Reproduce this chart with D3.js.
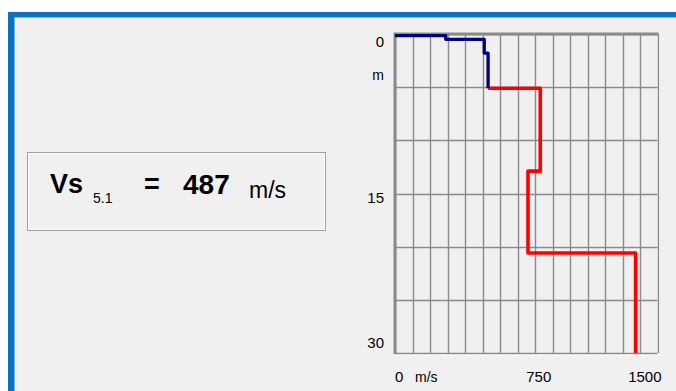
<!DOCTYPE html>
<html>
<head>
<meta charset="utf-8">
<script src="https://cdn.jsdelivr.net/npm/d3@7"></script>
<style>
  html, body { margin: 0; padding: 0; background: #ffffff; }
  svg { display: block; }
  text { font-family: "Liberation Sans", Arial, sans-serif; fill: #000; }
</style>
</head>
<body>
<svg id="chart" width="676" height="391"></svg>
<script>
// Shear-wave velocity profile: layer velocities (m/s) and layer bottoms (m)
const velocities = [290, 510, 532, 830, 760, 1375];
const layerBottoms = [0.5, 1.8, 5.1, 12.9, 20.6, 30];
const averagingDepth = 5.1;        // depth used for the time-averaged Vs
const velocityTicks = [0, 750, 1500];
const depthTicks = [0, 15, 30];
const velocityGrid = d3.range(0, 1501, 100);
const depthGrid = d3.range(0, 31, 5);

// Time-averaged velocity down to averagingDepth
function averageVs(depth) {
  let t = 0, top = 0;
  for (let i = 0; i < velocities.length && top < depth; i++) {
    const bot = Math.min(layerBottoms[i], depth);
    t += (bot - top) / velocities[i];
    top = layerBottoms[i];
  }
  return depth / t;
}
const vsValue = Math.round(averageVs(averagingDepth));

const svg = d3.select("#chart");
const W = 676, H = 391;

// window frame
svg.append("rect").attr("x", 0).attr("y", 0).attr("width", W).attr("height", H).attr("fill", "#ffffff");
svg.append("rect").attr("x", 8).attr("y", 12).attr("width", W - 8).attr("height", H - 12).attr("fill", "#0a72c4");
svg.append("rect").attr("x", 14).attr("y", 17).attr("width", W - 14).attr("height", H - 17).attr("fill", "#7fb6e6");
svg.append("rect").attr("x", 15).attr("y", 18).attr("width", W - 15).attr("height", H - 18).attr("fill", "#f0f0f0");

// value box
svg.append("rect").attr("x", 27.5).attr("y", 152.5).attr("width", 298).attr("height", 78)
  .attr("fill", "#f0f0f0").attr("stroke", "#a0a0a0").attr("stroke-width", 1);
svg.append("rect").attr("x", 28.5).attr("y", 153.5).attr("width", 296).attr("height", 76)
  .attr("fill", "none").attr("stroke", "#ffffff").attr("stroke-width", 1);

svg.append("text").attr("x", 50).attr("y", 193.3)
  .attr("font-size", 27).attr("font-weight", "bold").text("Vs");
svg.append("text").attr("x", 93).attr("y", 203.3)
  .attr("font-size", 14).text(String(averagingDepth));
svg.append("text").attr("x", 144).attr("y", 193.3)
  .attr("font-size", 27).attr("font-weight", "bold").text("=");
svg.append("text").attr("x", 183).attr("y", 194.3)
  .attr("font-size", 28).attr("font-weight", "bold").text(vsValue);
svg.append("text").attr("x", 249).attr("y", 198.3)
  .attr("font-size", 23).text("m/s");

// profile plot
const plot = { left: 395, top: 34, right: 657.5, bottom: 353 };
const x = d3.scaleLinear().domain([0, 1500]).range([plot.left, plot.right]);
const y = d3.scaleLinear().domain([0, 30]).range([plot.top, plot.bottom]);

const g = svg.append("g");

// light bevel on bottom/right
g.append("path")
  .attr("d", `M${plot.right + 1.5},${plot.top} V${plot.bottom + 1.5} H${plot.left}`)
  .attr("fill", "none").attr("stroke", "#ffffff").attr("stroke-width", 2);

g.selectAll("line.vgrid").data(velocityGrid).join("line")
  .attr("class", "vgrid")
  .attr("x1", d => Math.round(x(d)) + 0.5).attr("x2", d => Math.round(x(d)) + 0.5)
  .attr("y1", plot.top).attr("y2", plot.bottom)
  .attr("stroke", "#8a8a8a").attr("stroke-width", 1.4);

g.selectAll("line.hgrid").data(depthGrid).join("line")
  .attr("class", "hgrid")
  .attr("x1", plot.left).attr("x2", plot.right)
  .attr("y1", d => Math.round(y(d)) + 0.5).attr("y2", d => Math.round(y(d)) + 0.5)
  .attr("stroke", "#8a8a8a").attr("stroke-width", 1.4);

// darker sunken edge on top/left
g.append("path")
  .attr("d", `M${plot.left},${plot.bottom + 1} V${plot.top} H${plot.right + 1}`)
  .attr("fill", "none").attr("stroke", "#8a8a8a").attr("stroke-width", 3);

// step profile split at averagingDepth
function stepPoints(fromDepth, toDepth, startFromZero) {
  const pts = [];
  let top = 0;
  for (let i = 0; i < velocities.length; i++) {
    const bot = layerBottoms[i];
    const a = Math.max(top, fromDepth), b = Math.min(bot, toDepth);
    if (b > a) {
      if (pts.length === 0 && startFromZero) pts.push([0, a]);
      pts.push([velocities[i], a]);
      pts.push([velocities[i], b]);
    }
    top = bot;
  }
  return pts;
}
const upper = stepPoints(0, averagingDepth, true);
const lower = [[upper[upper.length - 1][0], averagingDepth]].concat(stepPoints(averagingDepth, 30, false));

const line = d3.line().x(d => x(d[0])).y(d => y(d[1]));
g.append("path").attr("d", line(lower)).attr("fill", "none")
  .attr("stroke", "#ff0000").attr("stroke-width", 3.6).attr("stroke-linejoin", "round");
g.append("path").attr("d", line(upper.map(d => [d[0], Math.max(d[1], 0.15)]))).attr("fill", "none")
  .attr("stroke", "#000080").attr("stroke-width", 3.3).attr("stroke-linejoin", "round");

// depth labels
depthTicks.forEach((d, i) => {
  const last = i === depthTicks.length - 1;
  const baseline = i === 0 ? y(d) + 13 : last ? y(d) - 5.3 : y(d) + 9.4;
  svg.append("text").attr("x", 384).attr("y", baseline)
    .attr("text-anchor", "end").attr("font-size", 15).text(d);
});
svg.append("text").attr("x", 384).attr("y", 80)
  .attr("text-anchor", "end").attr("font-size", 14).text("m");

// velocity labels
velocityTicks.forEach((v, i) => {
  const last = i === velocityTicks.length - 1;
  svg.append("text")
    .attr("x", last ? x(v) + 4 : x(v))
    .attr("y", 381.7)
    .attr("text-anchor", last ? "end" : "start")
    .attr("font-size", 15).text(v);
});
svg.append("text").attr("x", 415).attr("y", 381.7).attr("font-size", 14).text("m/s");
</script>
</body>
</html>
